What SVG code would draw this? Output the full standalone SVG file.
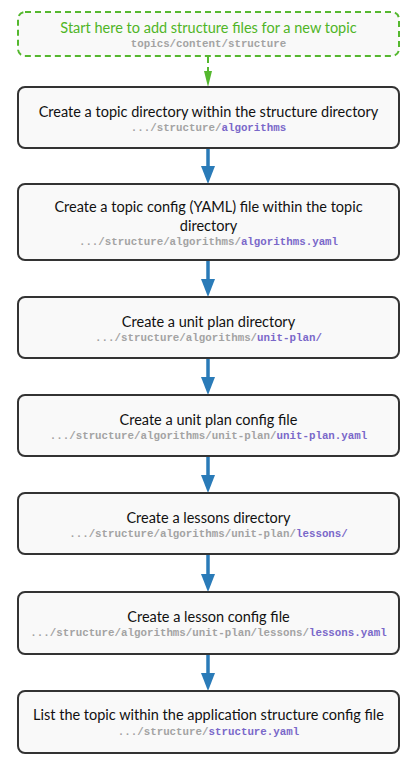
<svg xmlns="http://www.w3.org/2000/svg" width="414" height="770" viewBox="0 0 414 770">
  <style>
    .box { fill: #f9f9f9; stroke: #333333; stroke-width: 2; }
    .start { fill: #f9f9f9; stroke: #55b82f; stroke-width: 2; stroke-dasharray: 6 4; }
    .title { font-family: Lato, "Liberation Sans", sans-serif; font-size: 14.5px; fill: #111111; text-anchor: middle; }
    .start-title { fill: #4fb526; }
    .path { font-family: "Liberation Mono", "DejaVu Sans Mono", monospace; font-size: 10.8px; font-weight: bold; fill: #a3a3a3; text-anchor: middle; }
    .hl { fill: #7a68c9; }
    .flow { stroke: #2a7bb8; stroke-width: 3.5; fill: none; }
    .flow-start { stroke: #55b82f; stroke-width: 2; stroke-dasharray: 6 4; fill: none; }
  </style>
  <defs>
    <!-- arrowhead: 18 long, 14 wide; its base sits at the end of the shaft -->
    <marker id="head" markerUnits="userSpaceOnUse" markerWidth="18" markerHeight="14" refX="0" refY="7" orient="auto" viewBox="0 0 18 14">
      <path d="M0,0 L18,7 L0,14 Z" fill="#2a7bb8"/>
    </marker>
  </defs>

  <g id="connectors">
    <path class="flow-start" d="M208,57 V72"/>
    <path d="M204,71 L212,71 L208,87 Z" fill="#55b82f"/>
    <path class="flow" d="M208,149 V166" marker-end="url(#head)"/>
    <path class="flow" d="M208,261 V279" marker-end="url(#head)"/>
    <path class="flow" d="M208,359 V377" marker-end="url(#head)"/>
    <path class="flow" d="M208,457 V475" marker-end="url(#head)"/>
    <path class="flow" d="M208,555 V574" marker-end="url(#head)"/>
    <path class="flow" d="M208,655 V673" marker-end="url(#head)"/>
  </g>

  <g id="start">
    <rect class="start" x="18" y="12" width="381" height="44" rx="7"/>
    <text class="title start-title" x="208.5" y="33">Start here to add structure files for a new topic</text>
    <text class="path" x="208.5" y="47">topics/content/structure</text>
  </g>

  <g id="topic-dir">
    <rect class="box" x="18" y="87" width="381" height="61" rx="7"/>
    <text class="title" x="208.5" y="116.5">Create a topic directory within the structure directory</text>
    <text class="path" x="208.5" y="131">.../structure/<tspan class="hl">algorithms</tspan></text>
  </g>

  <g id="topic-config">
    <rect class="box" x="18" y="184" width="381" height="76" rx="7"/>
    <text class="title" x="208.5" y="212">Create a topic config (YAML) file within the topic</text>
    <text class="title" x="208.5" y="231">directory</text>
    <text class="path" x="208.5" y="245">.../structure/algorithms/<tspan class="hl">algorithms.yaml</tspan></text>
  </g>

  <g id="unit-plan-dir">
    <rect class="box" x="18" y="297" width="381" height="61" rx="7"/>
    <text class="title" x="208.5" y="326.5">Create a unit plan directory</text>
    <text class="path" x="208.5" y="341">.../structure/algorithms/<tspan class="hl">unit-plan/</tspan></text>
  </g>

  <g id="unit-plan-config">
    <rect class="box" x="18" y="395" width="381" height="61" rx="7"/>
    <text class="title" x="208.5" y="424.5">Create a unit plan config file</text>
    <text class="path" x="208.5" y="439">.../structure/algorithms/unit-plan/<tspan class="hl">unit-plan.yaml</tspan></text>
  </g>

  <g id="lessons-dir">
    <rect class="box" x="18" y="493" width="381" height="61" rx="7"/>
    <text class="title" x="208.5" y="522.5">Create a lessons directory</text>
    <text class="path" x="208.5" y="537">.../structure/algorithms/unit-plan/<tspan class="hl">lessons/</tspan></text>
  </g>

  <g id="lesson-config">
    <rect class="box" x="18" y="592" width="381" height="62" rx="7"/>
    <text class="title" x="208.5" y="621.5">Create a lesson config file</text>
    <text class="path" x="208.5" y="636">.../structure/algorithms/unit-plan/lessons/<tspan class="hl">lessons.yaml</tspan></text>
  </g>

  <g id="app-config">
    <rect class="box" x="18" y="691" width="381" height="62" rx="7"/>
    <text class="title" x="208.5" y="720">List the topic within the application structure config  file</text>
    <text class="path" x="208.5" y="735">.../structure/<tspan class="hl">structure.yaml</tspan></text>
  </g>
</svg>
